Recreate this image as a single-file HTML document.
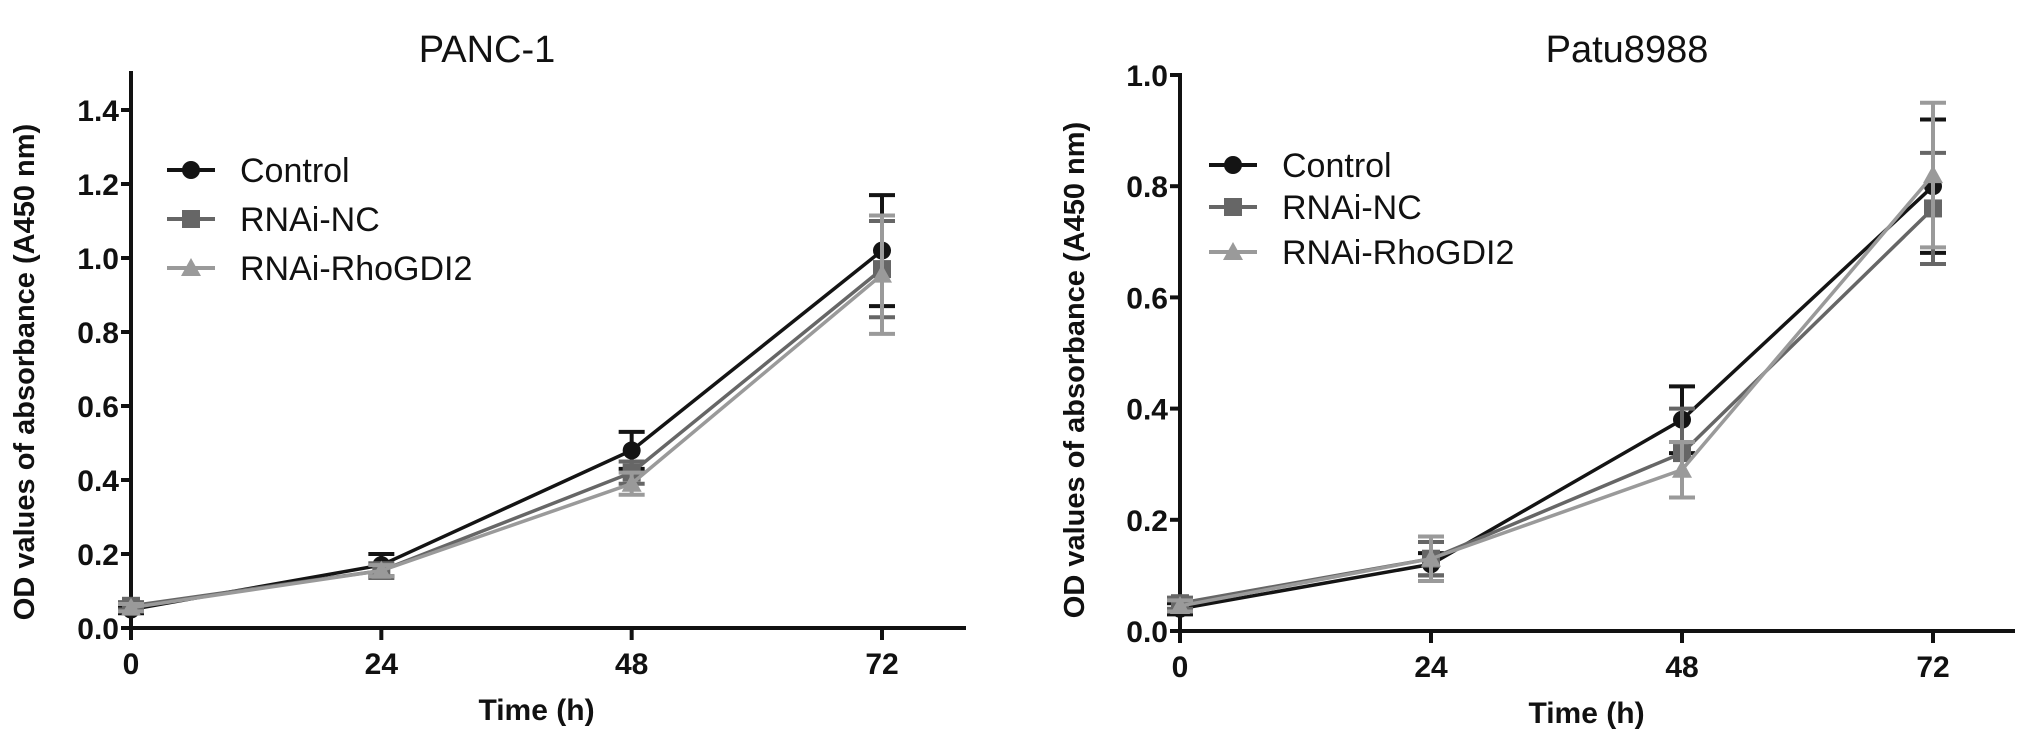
<!DOCTYPE html>
<html><head><meta charset="utf-8"><style>
html,body{margin:0;padding:0;background:#fff;}
svg{display:block;font-family:"Liberation Sans",Arial,sans-serif;}
</style></head><body>
<svg id="fig" width="2032" height="744" viewBox="0 0 2032 744"></svg>
<script>
const timepoints=[0,24,48,72];
const xTickLabels=["0","24","48","72"];
const seriesNames=["Control","RNAi-NC","RNAi-RhoGDI2"];
const panc1Control=[0.05,0.17,0.48,1.02];
const panc1ControlErr=[0.01,0.03,0.05,0.15];
const panc1NC=[0.06,0.155,0.42,0.97];
const panc1NCErr=[0.01,0.02,0.03,0.13];
const panc1Rho=[0.055,0.155,0.39,0.955];
const panc1RhoErr=[0.01,0.015,0.03,0.16];
const panc1YTicks=["0.0","0.2","0.4","0.6","0.8","1.0","1.2","1.4"];
const patuControl=[0.04,0.12,0.38,0.80];
const patuControlErr=[0.01,0.02,0.06,0.12];
const patuNC=[0.05,0.13,0.32,0.76];
const patuNCErr=[0.01,0.03,0.08,0.10];
const patuRho=[0.045,0.13,0.29,0.82];
const patuRhoErr=[0.01,0.04,0.05,0.13];
const patuYTicks=["0.0","0.2","0.4","0.6","0.8","1.0"];

const NS="http://www.w3.org/2000/svg";
const svg=document.getElementById('fig');
function mk(tag,attrs,parent){const e=document.createElementNS(NS,tag);for(const k in attrs)e.setAttribute(k,attrs[k]);(parent||svg).appendChild(e);return e;}
const colors=["#141414","#666666","#9a9a9a"];

function panel(cfg){
  const g=mk('g',{});
  
  
  const xs=t=>cfg.x0+(cfg.x72-cfg.x0)*t/72;
  const ys=v=>cfg.y0-(cfg.y0-cfg.yTop)*v/cfg.ymax;
  const ya=mk('line',{x1:cfg.x0,y1:cfg.yTop-2,x2:cfg.x0,y2:cfg.y0+2,stroke:"#111","stroke-width":4},g);
  
  const xa=mk('line',{x1:cfg.x0-2,y1:cfg.y0,x2:cfg.xEnd,y2:cfg.y0,stroke:"#111","stroke-width":4},g);
  
  cfg.yticks.forEach(lbl=>{
    const v=parseFloat(lbl),y=ys(v);
    mk('line',{x1:cfg.x0-10,y1:y,x2:cfg.x0,y2:y,stroke:"#111","stroke-width":4},g);
    const t=mk('text',{x:cfg.x0-12,y:y+11,"text-anchor":"end","font-size":30,"font-weight":"bold",fill:"#111"},g);
    t.textContent=lbl;
    
  });
  timepoints.forEach((tp,i)=>{
    const x=xs(tp);
    mk('line',{x1:x,y1:cfg.y0,x2:x,y2:cfg.y0+12,stroke:"#111","stroke-width":4},g);
    const t=mk('text',{x:x,y:cfg.y0+46,"text-anchor":"middle","font-size":30,"font-weight":"bold",fill:"#111"},g);
    t.textContent=xTickLabels[i];
    
  });
  const xt=mk('text',{x:(cfg.x0+cfg.x72)/2+30,y:cfg.y0+92,"text-anchor":"middle","font-size":30,"font-weight":"bold",fill:"#111"},g);
  xt.textContent="Time (h)";
  
  const yt=mk('text',{x:0,y:0,"text-anchor":"middle","font-size":29,"font-weight":"bold",fill:"#111",transform:`translate(${cfg.ytx},${cfg.yty}) rotate(-90)`},g);
  yt.textContent="OD values of absorbance (A450 nm)";
  
  const tt=mk('text',{x:cfg.titleX,y:62,"text-anchor":"middle","font-size":38,fill:"#111"},g);
  tt.textContent=cfg.title;
  
  cfg.series.forEach((s,si)=>{
    const sg=mk('g',{},g);
    
    
    const c=colors[si];
    const pts=s.v.map((v,i)=>xs(timepoints[i])+','+ys(v)).join(' ');
    mk('polyline',{points:pts,fill:"none",stroke:c,"stroke-width":3.5},sg);
    s.v.forEach((v,i)=>{
      const x=xs(timepoints[i]),e=s.e[i];
      const eb=mk('path',{d:`M${x},${ys(v+e)}V${ys(v-e)}M${x-13},${ys(v+e)}H${x+13}M${x-13},${ys(v-e)}H${x+13}`,stroke:c,"stroke-width":4,fill:"none"},sg);
      
      marker(sg,si,x,ys(v),c);
    });
  });
  seriesNames.forEach((n,i)=>{
    const lg=mk('g',{},g);
    
    
    const y=cfg.legY[i];
    mk('line',{x1:cfg.legX,y1:y,x2:cfg.legX+48,y2:y,stroke:colors[i],"stroke-width":4},lg);
    marker(lg,i,cfg.legX+24,y,colors[i]);
    const t=mk('text',{x:cfg.legX+73,y:y+12,"font-size":34,fill:"#111"},lg);
    t.textContent=n;
  });
}
function marker(p,si,x,y,c){
  let m;
  if(si===0)m=mk('circle',{cx:x,cy:y,r:9,fill:c},p);
  else if(si===1)m=mk('rect',{x:x-9,y:y-9,width:18,height:18,fill:c},p);
  else m=mk('polygon',{points:`${x},${y-10} ${x+10},${y+8} ${x-10},${y+8}`,fill:c},p);
  
  
}
panel({name:'panc1-chart',title:'PANC-1',titleX:487,x0:131,x72:882,xEnd:966,y0:628,yTop:73,ymax:1.5,
  yticks:panc1YTicks,ytx:34,yty:372,legX:167,legY:[170,219,268],
  series:[{v:panc1Control,e:panc1ControlErr},{v:panc1NC,e:panc1NCErr},{v:panc1Rho,e:panc1RhoErr}]});
panel({name:'patu8988-chart',title:'Patu8988',titleX:1627,x0:1180,x72:1933,xEnd:2015,y0:631,yTop:75,ymax:1.0,
  yticks:patuYTicks,ytx:1084,yty:370,legX:1209,legY:[165,207,252],
  series:[{v:patuControl,e:patuControlErr},{v:patuNC,e:patuNCErr},{v:patuRho,e:patuRhoErr}]});
</script>
</body></html>
